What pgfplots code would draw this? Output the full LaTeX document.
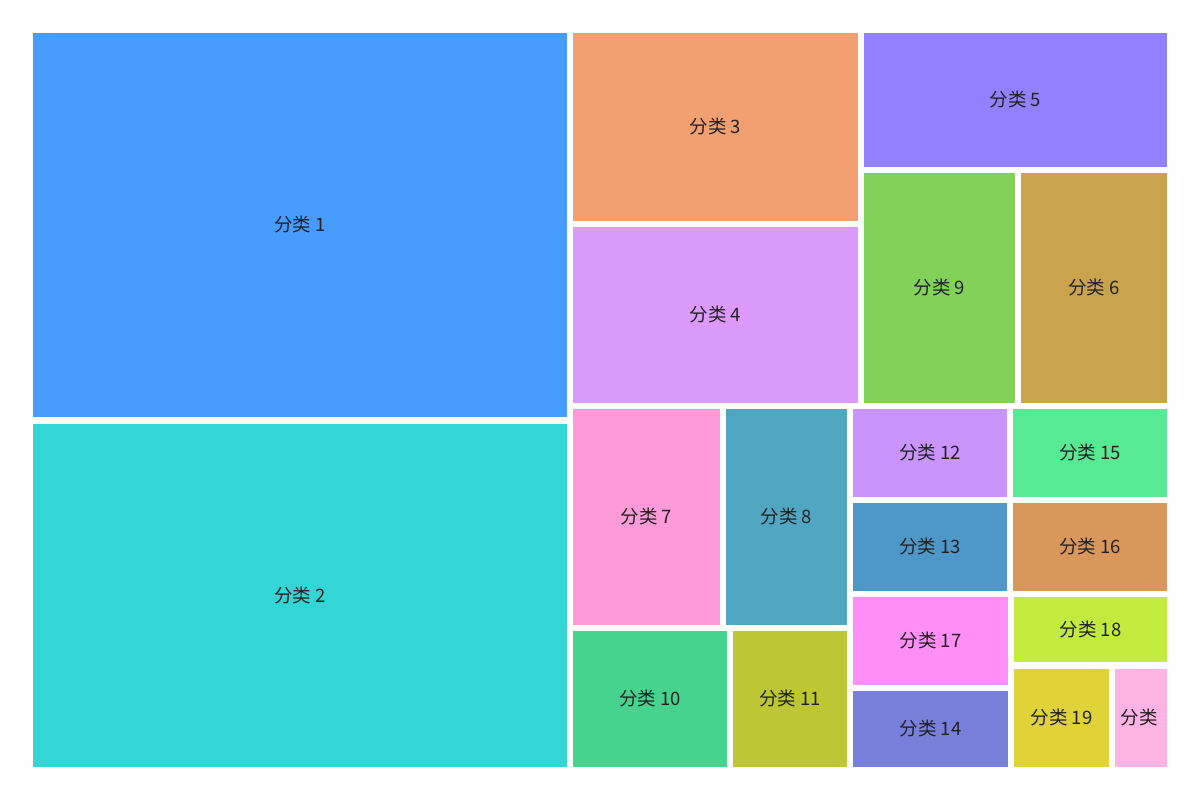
\documentclass[border=0pt]{standalone}
\usepackage{pgfplots}
\pgfplotsset{compat=1.18}
\usepackage{fontspec}
\setmainfont{Noto Sans CJK SC}
\definecolor{c1}{HTML}{479CFF}
\definecolor{c2}{HTML}{33D6D4}
\definecolor{c3}{HTML}{F2A071}
\definecolor{c4}{HTML}{DC9BFC}
\definecolor{c5}{HTML}{9181FF}
\definecolor{c6}{HTML}{C9A44C}
\definecolor{c7}{HTML}{FE9AD8}
\definecolor{c8}{HTML}{51A6C1}
\definecolor{c9}{HTML}{82D159}
\definecolor{c10}{HTML}{46D38D}
\definecolor{c11}{HTML}{BDC733}
\definecolor{c12}{HTML}{C995FC}
\definecolor{c13}{HTML}{4E97C9}
\definecolor{c14}{HTML}{7880DB}
\definecolor{c15}{HTML}{57E993}
\definecolor{c16}{HTML}{D9975C}
\definecolor{c17}{HTML}{FF8FF7}
\definecolor{c18}{HTML}{C2EB3F}
\definecolor{c19}{HTML}{E0D339}
\definecolor{c20}{HTML}{FEB3E5}
\definecolor{txt}{HTML}{222222}
\pgfplotstableread[col sep=comma]{
x,y,label
300,225,分类 1
300,595.5,分类 2
715.5,127,分类 3
715.5,315,分类 4
1015.5,100,分类 5
1094,288,分类 6
646.5,517,分类 7
786.5,517,分类 8
939.5,288,分类 9
650,699,分类 10
790,699,分类 11
930,453,分类 12
930,547,分类 13
930.5,729,分类 14
1090,453,分类 15
1090,547,分类 16
930.5,641,分类 17
1090.5,629.5,分类 18
1061.5,718,分类 19
1139,718,分类
}\labels
\newcommand{\rect}[5]{\addplot[fill=#1, draw=none] coordinates {(#2,#3) (#4,#3) (#4,#5) (#2,#5)} --cycle;}
\begin{document}
\begin{tikzpicture}
\begin{axis}[
  width=1200pt, height=800pt, scale only axis,
  xmin=0, xmax=1200, ymin=0, ymax=800, y dir=reverse,
  axis line style={draw=none}, ticks=none,
  clip=false,
]
\rect{c1}{33}{33}{567}{417}
\rect{c2}{33}{424}{567}{767}
\rect{c3}{573}{33}{858}{221}
\rect{c4}{573}{227}{858}{403}
\rect{c5}{864}{33}{1167}{167}
\rect{c9}{864}{173}{1015}{403}
\rect{c6}{1021}{173}{1167}{403}
\rect{c7}{573}{409}{720}{625}
\rect{c8}{726}{409}{847}{625}
\rect{c10}{573}{631}{727}{767}
\rect{c11}{733}{631}{847}{767}
\rect{c12}{853}{409}{1007}{497}
\rect{c15}{1013}{409}{1167}{497}
\rect{c13}{853}{503}{1007}{591}
\rect{c16}{1013}{503}{1167}{591}
\rect{c17}{853}{597}{1008}{685}
\rect{c14}{853}{691}{1008}{767}
\rect{c18}{1014}{597}{1167}{662}
\rect{c19}{1014}{669}{1109}{767}
\rect{c20}{1115}{669}{1167}{767}
\addplot[draw=none, mark=none, nodes near coords, point meta=explicit symbolic,
  nodes near coords style={anchor=center, text=txt, font=\fontsize{18.5}{22}\selectfont, inner sep=0pt}]
  table[x=x, y=y, meta=label] {\labels};
\end{axis}
\end{tikzpicture}
\end{document}
